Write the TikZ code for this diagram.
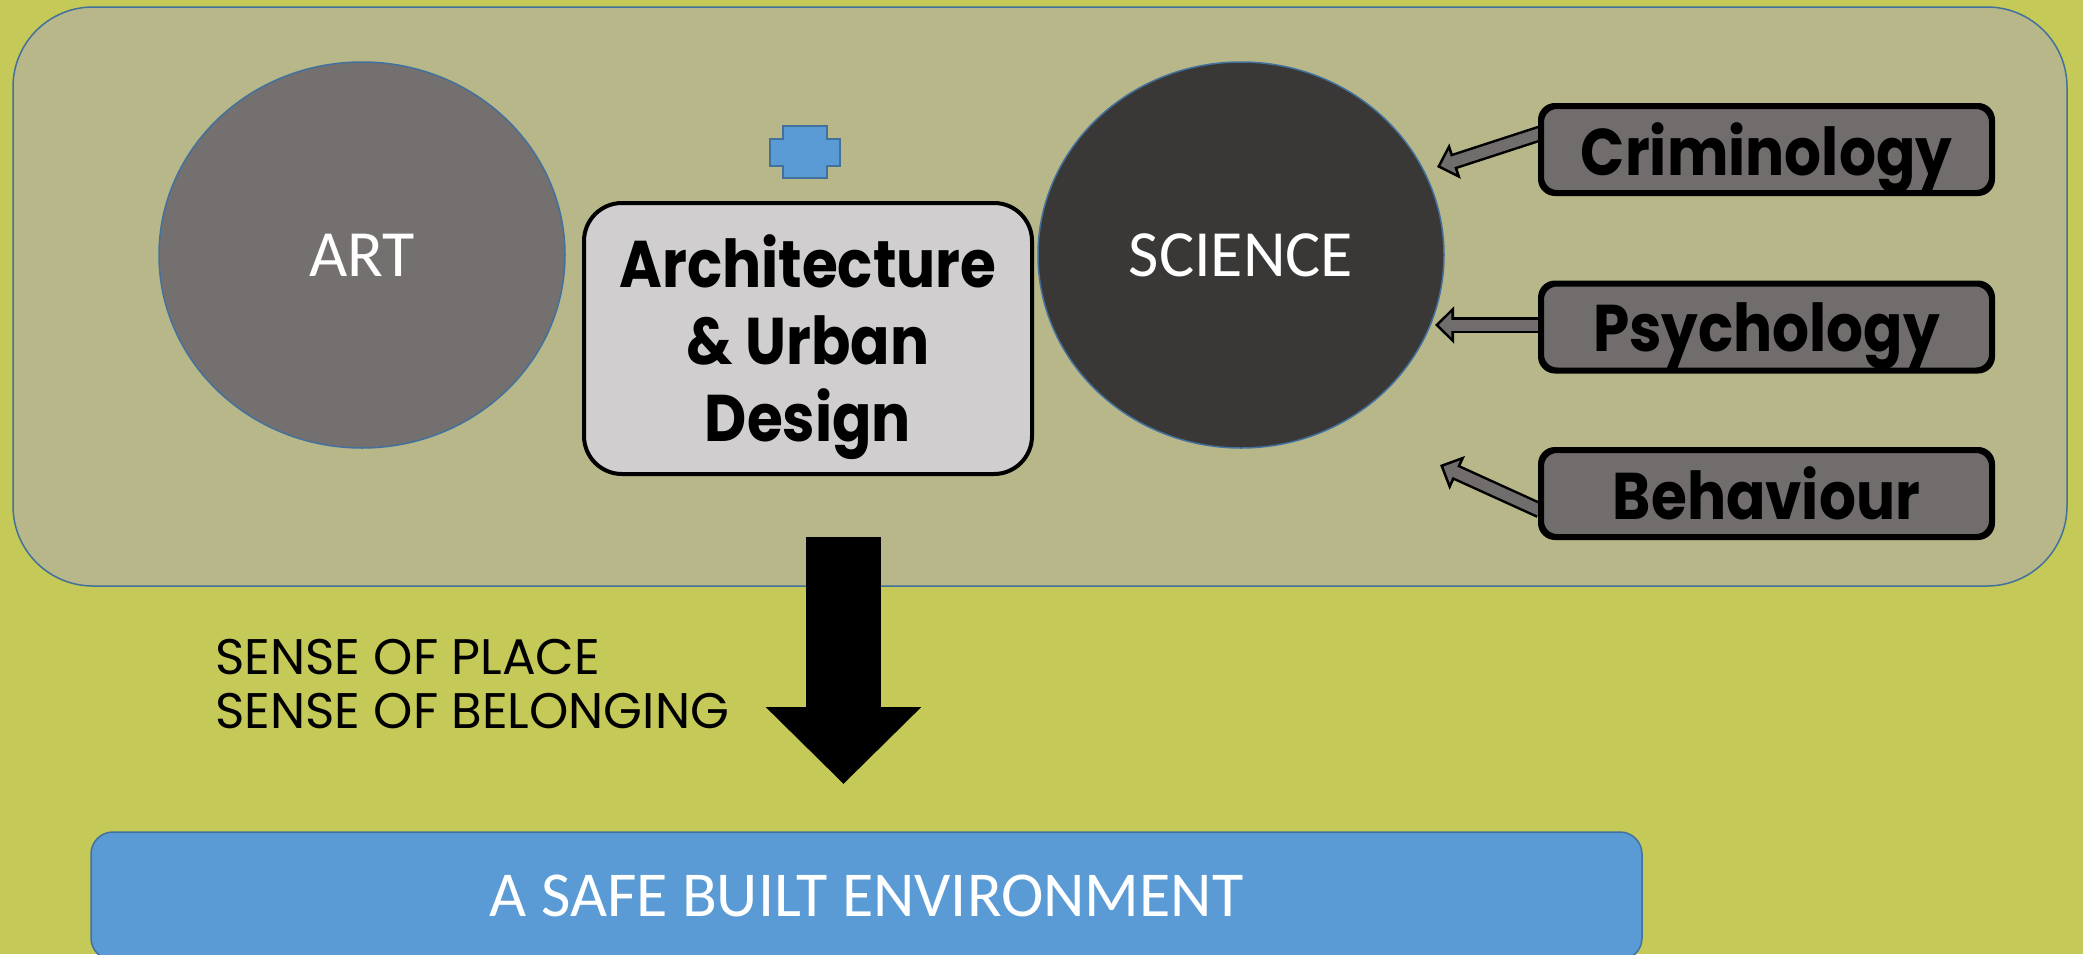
\documentclass[tikz,border=0pt]{standalone}
\usepackage{fontspec}
\usetikzlibrary{shapes.geometric,arrows.meta}
\newfontfamily\gothic[FakeStretch=0.88]{Poppins}
\newfontfamily\gothicwide{Poppins}
\newfontfamily\calib{Carlito}
\definecolor{bgolive}{HTML}{C5C957}
\definecolor{panelkhaki}{HTML}{B7B78A}
\definecolor{artgrey}{HTML}{757070}
\definecolor{sciencegrey}{HTML}{3A3837}
\definecolor{archgrey}{HTML}{D0CECF}
\definecolor{topicgrey}{HTML}{716D6C}
\definecolor{planblue}{HTML}{5B9BD5}
\definecolor{planedge}{HTML}{41719C}
\begin{document}
\begin{tikzpicture}[x=1pt, y=-1pt,
    blob/.style={ellipse, draw=planedge, line width=1.5pt, text=white,
      minimum width=406pt, minimum height=386pt,
      font=\calib\fontsize{66}{70}\selectfont},
    topic/.style={draw=black, line width=4pt, fill=topicgrey, rounded corners=15pt,
      minimum width=449pt, minimum height=85pt, inner sep=0pt, text depth=0pt,
      font=\gothic\bfseries\fontsize{66}{70}\selectfont},
    feedout/.style={line width=16pt, black, -{Triangle[length=19pt, width=36pt]}},
    feedin/.style={line width=11pt, topicgrey, shorten >=3.8pt,
      -{Triangle[length=12.5pt, width=24pt]}}]
  \useasboundingbox (0,0) rectangle (2083,954);
  \clip (0,0) rectangle (2083,954);
  \fill[bgolive] (0,0) rectangle (2083,954);
  % upper panel
  \draw[fill=panelkhaki, draw=planedge, line width=1.5pt, rounded corners=80pt]
    (13,7) rectangle (2067,586);

  \node[topic] (crim) at (1766.5,149.5) {Criminology};
  \node[topic] (psych) at (1766.5,327) {Psychology};
  \node[topic] (behav) at (1766.5,493.5) {Behaviour};
  \coordinate (crimtip) at (1437,167);
  \coordinate (psychtip) at (1435,325);
  \coordinate (behavtip) at (1440,465);
  \foreach \src/\tip/\dy in {crim/crimtip/16, psych/psychtip/2, behav/behavtip/-17} {
    \draw[feedout] ([yshift=\dy pt]\src.west) -- (\tip);
    \draw[feedin] ([yshift=\dy pt]\src.west) -- (\tip);
  }
  \foreach \n in {crim, psych, behav}
    \draw[line width=4pt, rounded corners=15pt] (\n.south west) rectangle (\n.north east);

  \node[blob, fill=artgrey] (art) at (362,255) {ART};
  \node[blob, fill=sciencegrey] (science) at (1241,255) {SCIENCE};

  \node[draw=black, line width=4pt, fill=archgrey, rounded corners=38pt,
    minimum width=448pt, minimum height=271pt, align=center, text depth=0pt,
    font=\gothic\bfseries\fontsize{66}{77}\selectfont] (arch) at (808,338.5)
    {Architecture\\\& Urban\\Design};

  % small plus sign
  \draw[fill=planblue, draw=planedge, line width=2.5pt]
    (783,126) -- (827,126) -- (827,139) -- (840,139) -- (840,166) -- (827,166)
    -- (827,178) -- (783,178) -- (783,166) -- (770,166) -- (770,139) -- (783,139) -- cycle;

  \coordinate (flowtop) at (843.5,537);
  \coordinate (flowtip) at (843.5,784);
  \draw[line width=75pt, -{Triangle[length=77pt, width=151pt]}] (flowtop) -- (flowtip);

  \node[anchor=west, align=left, inner sep=0pt,
    font=\gothicwide\fontsize{50}{54}\selectfont] (sense) at (215,684.5)
    {SENSE OF PLACE\\SENSE OF BELONGING};

  \node[draw=planedge, line width=1.5pt, fill=planblue, rounded corners=22pt,
    minimum width=1551pt, minimum height=128pt, text=white,
    font=\calib\fontsize{64}{68}\selectfont] (safe) at (866.5,896)
    {A SAFE BUILT ENVIRONMENT};
\end{tikzpicture}
\end{document}
